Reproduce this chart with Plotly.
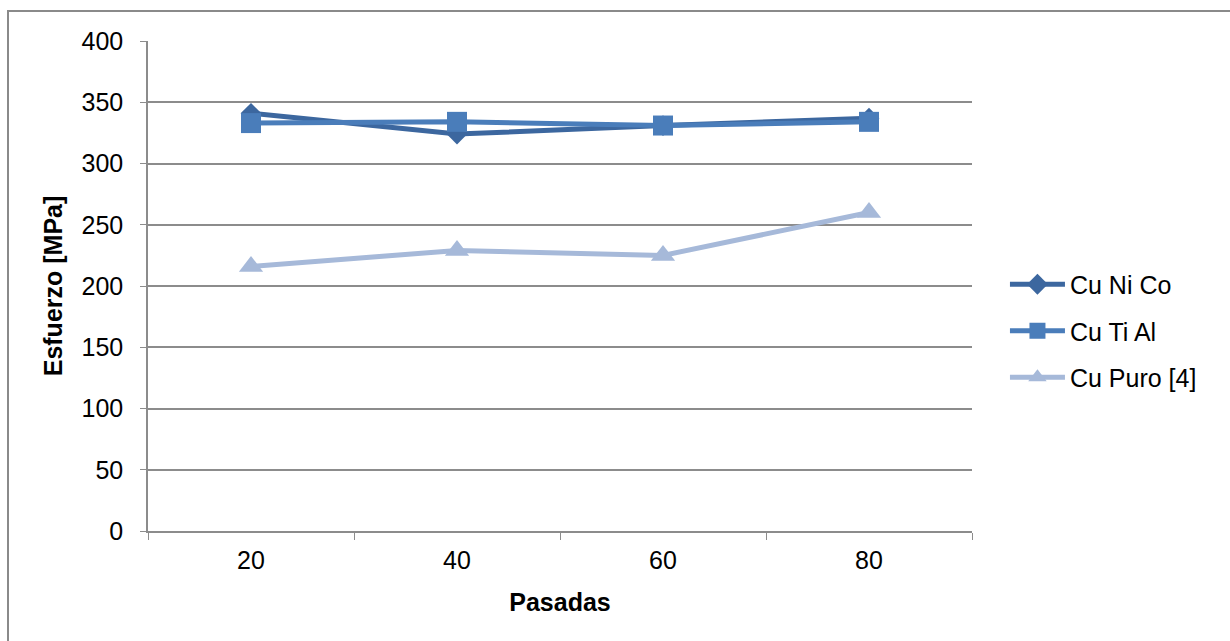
import plotly.graph_objects as go

# Number of passes (categories) and flow stress per alloy
pasadas = ["20", "40", "60", "80"]
cu_ni_co = [341, 324, 331, 337]
cu_ti_al = [333, 334, 331, 334]
cu_puro = [216, 229, 225, 260]

FONT = "Liberation Sans, Arial, sans-serif"
GRID = "#8c8c8c"

series = [
    ("Cu Ni Co", cu_ni_co, "#3C679F", "diamond", 16),
    ("Cu Ti Al", cu_ti_al, "#4A7DBA", "square", 20),
    ("Cu Puro [4]", cu_puro, "#A6B9D9", "triangle-up", 21),
]

fig = go.Figure()
for name, vals, color, symbol, size in series:
    fig.add_trace(go.Scatter(
        x=pasadas, y=vals, name=name, mode="lines+markers",
        legendgroup=name,
        line=dict(color=color, width=5),
        marker=dict(symbol=symbol, size=size, color=color, line=dict(width=0)),
    ))

fig.update_layout(
    width=1230, height=641,
    margin=dict(l=148, r=258, t=41, b=110),
    paper_bgcolor="white", plot_bgcolor="white",
    font=dict(family=FONT, size=25, color="black"),
    showlegend=True,
    legend=dict(
        x=1.04, y=(531 - 331) / 490, xanchor="left", yanchor="middle",
        font=dict(size=25, family=FONT),
        tracegroupgap=11, itemwidth=55,
        bgcolor="rgba(0,0,0,0)",
    ),
    xaxis=dict(
        type="category", range=[-0.5, 3.5],
        tickson="boundaries", ticks="outside", ticklen=7, tickcolor=GRID,
        showgrid=False, showline=True, linecolor=GRID, linewidth=1.5,
        zeroline=False, ticklabelstandoff=6,
        title=dict(text="<b>Pasadas</b>", font=dict(size=25), standoff=21),
        tickfont=dict(size=25),
    ),
    yaxis=dict(
        range=[0, 400], dtick=50, ticks="outside", ticklen=6, tickcolor=GRID,
        showgrid=True, gridcolor=GRID, gridwidth=1.5,
        showline=True, linecolor=GRID, linewidth=1.5,
        zeroline=False, ticklabelstandoff=12,
        title=dict(text="<b>Esfuerzo [MPa]</b>", font=dict(size=25), standoff=12),
        tickfont=dict(size=25),
    ),
)

# Chart frame (left and top edges visible; the rest runs past the page)
fig.add_shape(
    type="rect", xref="paper", yref="paper",
    x0=(8 - 148) / 824, x1=(1260 - 148) / 824,
    y0=(531 - 680) / 490, y1=1 + 30 / 490,
    line=dict(color="#8a8a8a", width=2), fillcolor="rgba(0,0,0,0)",
    layer="below",
)

fig.write_html("out.html")
